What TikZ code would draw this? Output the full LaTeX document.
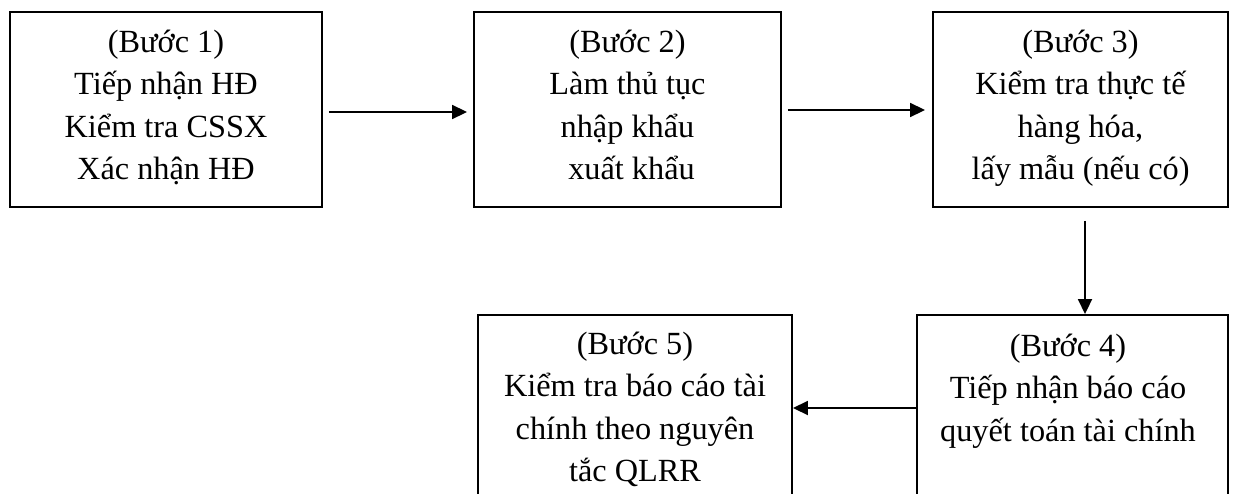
\documentclass[tikz,border=0pt]{standalone}
\usepackage{fontspec}
\setmainfont{Liberation Serif}
\usetikzlibrary{arrows.meta}
\begin{document}
\begin{tikzpicture}[x=1pt,y=-1pt,
  box/.style={draw, line width=1.9pt, rectangle, inner sep=0pt},
  txt/.style={align=center, inner sep=0pt, font=\fontsize{32.3}{42.5}\selectfont},
  arr/.style={line width=1.8pt, -{Triangle[length=15pt,width=14pt]}}]
\useasboundingbox (0,0) rectangle (1233,493);
\clip (0,0) rectangle (1233,493);

% process boxes
\node[box, minimum width=312pt, minimum height=195pt] (b1) at (166,109.5) {};
\node[box, minimum width=307pt, minimum height=195pt] (b2) at (627.5,109.5) {};
\node[box, minimum width=295pt, minimum height=195pt] (b3) at (1080.5,109.5) {};
\node[box, minimum width=311pt, minimum height=205pt] (b4) at (1072.5,417.5) {};
\node[box, minimum width=314pt, minimum height=205pt] (b5) at (635,417.5) {};

% box texts
\node[txt, anchor=north] (t1) at ([yshift=-11pt]b1.north)
  {\strut(Bước 1)\\\strut Tiếp nhận HĐ\\\strut Kiểm tra CSSX\\\strut Xác nhận HĐ};
\node[txt, anchor=north] (t2) at ([yshift=-11pt]b2.north)
  {\strut(Bước 2)\\\strut Làm thủ tục\\\strut nhập khẩu\\\strut\ xuất khẩu};
\node[txt, anchor=north] (t3) at ([yshift=-11pt]b3.north)
  {\strut(Bước 3)\\\strut Kiểm tra thực tế\\\strut hàng hóa,\\\strut lấy mẫu (nếu có)};
\node[txt, anchor=north] (t4) at ([xshift=-4.5pt,yshift=-12pt]b4.north)
  {\strut(Bước 4)\\\strut Tiếp nhận báo cáo\\\strut quyết toán tài chính};
\node[txt, anchor=north] (t5) at ([yshift=-10pt]b5.north)
  {\strut(Bước 5)\\\strut Kiểm tra báo cáo tài\\\strut chính theo nguyên\\\strut tắc QLRR};

% connectors
\draw[arr] ([xshift=6pt,yshift=-2.5pt]b1.east) -- ([xshift=-6pt,yshift=-2.5pt]b2.west);
\draw[arr] ([xshift=6pt,yshift=-0.5pt]b2.east) -- ([xshift=-7pt,yshift=-0.5pt]b3.west);
\coordinate (v) at ([xshift=4.5pt]b3.south);
\draw[arr] ([yshift=-13pt]v) -- (v |- b4.north);
\draw[arr] ([yshift=9.5pt]b4.west) -- ([yshift=9.5pt]b5.east);
\end{tikzpicture}
\end{document}
